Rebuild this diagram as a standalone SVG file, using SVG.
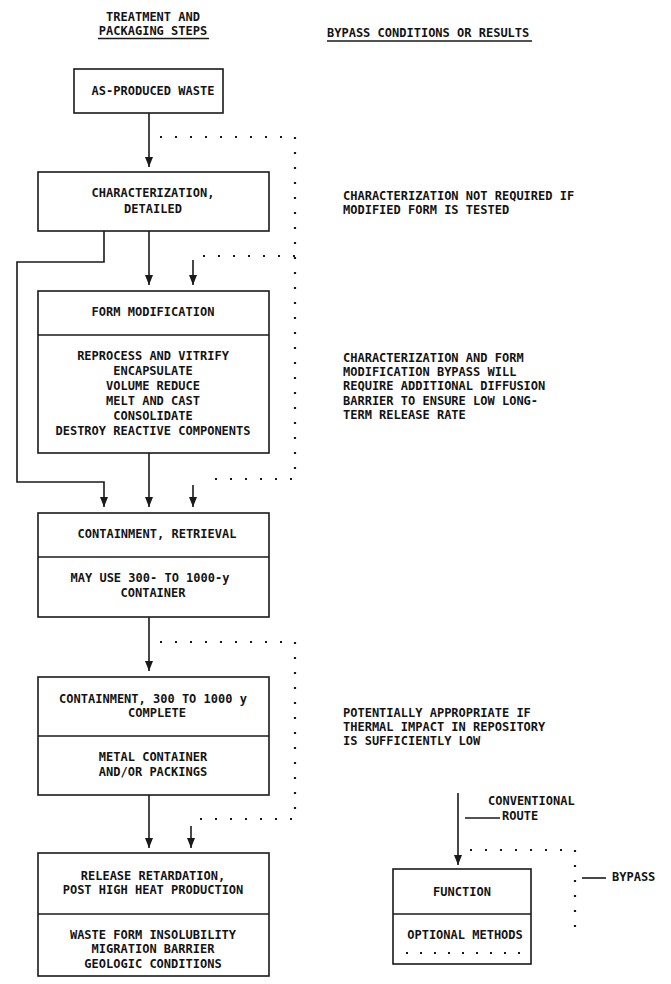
<svg xmlns="http://www.w3.org/2000/svg" width="671" height="984" viewBox="0 0 671 984">
<style>
text{font-family:"DejaVu Sans Mono","Liberation Mono",monospace;font-size:12px;font-weight:bold;fill:#141414}
.c{text-anchor:middle}
.box{fill:none;stroke:#1a1a1a;stroke-width:1.6}
.ln{fill:none;stroke:#1a1a1a;stroke-width:1.6}
.dot{fill:none;stroke:#1a1a1a;stroke-width:2.2;stroke-dasharray:2 13}
.ul{stroke:#1a1a1a;stroke-width:1.6}
</style>
<defs>
<marker id="ah" markerUnits="userSpaceOnUse" markerWidth="10" markerHeight="8" refX="10" refY="4" orient="auto">
<path d="M0,0 L10,4 L0,8 z" fill="#1a1a1a"/>
</marker>
</defs>
<rect width="671" height="984" fill="#fff"/>

<g id="headers">
<text class="c" x="153" y="21">TREATMENT AND</text>
<text class="c" x="153" y="35">PACKAGING STEPS</text>
<line class="ul" x1="98" y1="38.5" x2="209" y2="38.5"/>
<text x="327" y="37">BYPASS CONDITIONS OR RESULTS</text>
<line class="ul" x1="327" y1="41" x2="532" y2="41"/>
</g>

<g id="connectors">
<path class="ln" d="M149,113 V167" marker-end="url(#ah)"/>
<path class="dot" d="M160,137 H295 V479 H203"/>
<path class="dot" d="M295,256 H203"/>
<path class="ln" d="M149,231 V285" marker-end="url(#ah)"/>
<path class="ln" d="M193,260 V285" marker-end="url(#ah)"/>
<path class="ln" d="M104,231 V262 H17 V482 H104 V507" marker-end="url(#ah)"/>
<path class="ln" d="M149,453 V507" marker-end="url(#ah)"/>
<path class="ln" d="M193,485 V507" marker-end="url(#ah)"/>
<path class="ln" d="M149,617 V671" marker-end="url(#ah)"/>
<path class="dot" d="M160,642 H295 V819 H190"/>
<path class="ln" d="M149,795 V848" marker-end="url(#ah)"/>
<path class="ln" d="M191,826 V848" marker-end="url(#ah)"/>
<path class="ln" d="M458,793 V865" marker-end="url(#ah)"/>
<path class="dot" d="M470,850 H575 V940"/>
<line class="ln" x1="465" y1="818" x2="500" y2="818"/>
<line class="ln" x1="582" y1="878" x2="606" y2="878"/>
</g>

<g id="as-produced-waste">
<rect class="box" x="74" y="69" width="149" height="44"/>
<text class="c" x="153" y="95">AS-PRODUCED WASTE</text>
</g>

<g id="characterization">
<rect class="box" x="38" y="172" width="231" height="59"/>
<text class="c" x="153" y="197">CHARACTERIZATION,</text>
<text class="c" x="153" y="213">DETAILED</text>
</g>

<g id="form-modification">
<rect class="box" x="38" y="291" width="231" height="162"/>
<line class="ln" x1="38" y1="335" x2="269" y2="335"/>
<text class="c" x="153" y="316">FORM MODIFICATION</text>
<text class="c" x="153" y="360">REPROCESS AND VITRIFY</text>
<text class="c" x="153" y="375">ENCAPSULATE</text>
<text class="c" x="153" y="390">VOLUME REDUCE</text>
<text class="c" x="153" y="405">MELT AND CAST</text>
<text class="c" x="153" y="420">CONSOLIDATE</text>
<text class="c" x="153" y="435">DESTROY REACTIVE COMPONENTS</text>
</g>

<g id="containment-retrieval">
<rect class="box" x="38" y="513" width="231" height="104"/>
<line class="ln" x1="38" y1="557" x2="269" y2="557"/>
<text class="c" x="157" y="538">CONTAINMENT, RETRIEVAL</text>
<text class="c" x="150" y="582">MAY USE 300- TO 1000-y</text>
<text class="c" x="153" y="597">CONTAINER</text>
</g>

<g id="containment-complete">
<rect class="box" x="38" y="677" width="231" height="118"/>
<line class="ln" x1="38" y1="736" x2="269" y2="736"/>
<text class="c" x="153" y="703">CONTAINMENT, 300 TO 1000 y</text>
<text class="c" x="157" y="717">COMPLETE</text>
<text class="c" x="153" y="761">METAL CONTAINER</text>
<text class="c" x="153" y="776">AND/OR PACKINGS</text>
</g>

<g id="release-retardation">
<rect class="box" x="38" y="853" width="231" height="123"/>
<line class="ln" x1="38" y1="914" x2="269" y2="914"/>
<text class="c" x="153" y="880">RELEASE RETARDATION,</text>
<text class="c" x="153" y="894">POST HIGH HEAT PRODUCTION</text>
<text class="c" x="153" y="939">WASTE FORM INSOLUBILITY</text>
<text class="c" x="153" y="953">MIGRATION BARRIER</text>
<text class="c" x="153" y="968">GEOLOGIC CONDITIONS</text>
</g>

<g id="note-characterization">
<text x="343" y="200">CHARACTERIZATION NOT REQUIRED IF</text>
<text x="343" y="214">MODIFIED FORM IS TESTED</text>
</g>

<g id="note-form-bypass">
<text x="343" y="362">CHARACTERIZATION AND FORM</text>
<text x="343" y="376">MODIFICATION BYPASS WILL</text>
<text x="343" y="390">REQUIRE ADDITIONAL DIFFUSION</text>
<text x="343" y="405">BARRIER TO ENSURE LOW LONG-</text>
<text x="343" y="419">TERM RELEASE RATE</text>
</g>

<g id="note-containment">
<text x="343" y="717">POTENTIALLY APPROPRIATE IF</text>
<text x="343" y="731">THERMAL IMPACT IN REPOSITORY</text>
<text x="343" y="745">IS SUFFICIENTLY LOW</text>
</g>

<g id="legend">
<text x="488" y="805">CONVENTIONAL</text>
<text x="502" y="820">ROUTE</text>
<text x="612" y="881">BYPASS</text>
<rect class="box" x="393" y="869" width="138" height="95"/>
<line class="ln" x1="393" y1="914" x2="531" y2="914"/>
<text class="c" x="462" y="896">FUNCTION</text>
<text class="c" x="465" y="939">OPTIONAL METHODS</text>
<path class="dot" d="M406,953 H524" style="stroke-dasharray:2 12"/>
</g>
</svg>
